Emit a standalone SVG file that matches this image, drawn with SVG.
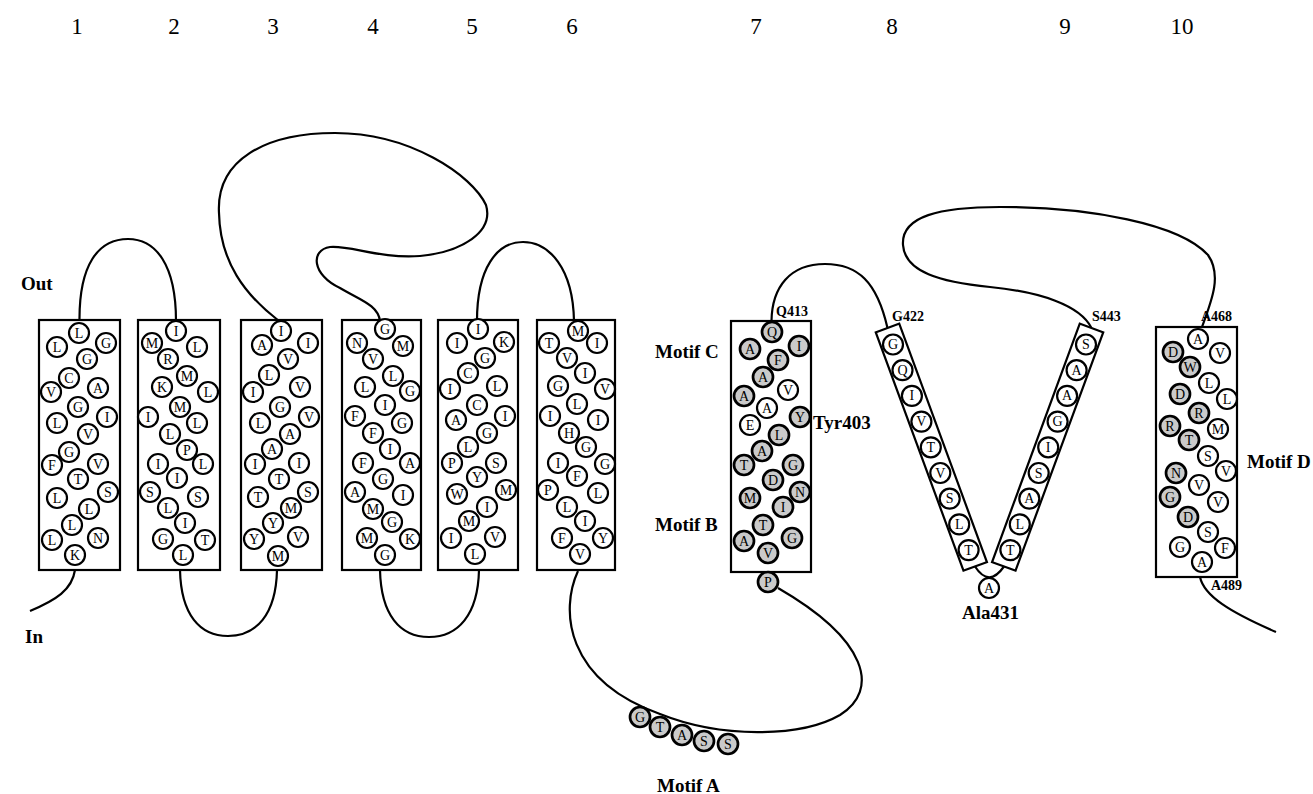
<svg xmlns="http://www.w3.org/2000/svg" width="1313" height="794" viewBox="0 0 1313 794">
<style>
.box{fill:#fff;stroke:#000;stroke-width:2.2}
.res circle{fill:#fff;stroke:#000;stroke-width:2.2}
.res circle.s{fill:#cacaca;stroke-width:2.7}
.res text{font-family:"Liberation Serif","Times New Roman",serif;font-size:14px;text-anchor:middle;dominant-baseline:central}
.lk{fill:none;stroke:#000;stroke-width:2.2}
.lab{font-family:"Liberation Serif","Times New Roman",serif;font-weight:bold;font-size:19px}
.sm{font-family:"Liberation Serif","Times New Roman",serif;font-weight:bold;font-size:14px}
.num{font-family:"Liberation Serif","Times New Roman",serif;font-size:23px;text-anchor:middle}
</style>
<rect width="1313" height="794" fill="#fff"/>
<g id="numbers">
<text class="num" x="77" y="34">1</text><text class="num" x="174" y="34">2</text><text class="num" x="273" y="34">3</text><text class="num" x="373" y="34">4</text><text class="num" x="472" y="34">5</text><text class="num" x="572" y="34">6</text><text class="num" x="756" y="34">7</text><text class="num" x="892" y="34">8</text><text class="num" x="1065" y="34">9</text><text class="num" x="1182" y="34">10</text>
</g>
<g id="sides">
<text class="lab" x="21" y="290">Out</text>
<text class="lab" x="25" y="643">In</text>
</g>
<g id="connectors">
<path class="lk" d="M75 570 C72 590 56 600 30 611"/>
<path class="lk" d="M79.5 321 C79 265 98 239 128 239 C156 239 176 265 176 321"/>
<path class="lk" d="M180 570 C181 615 200 636 228 636 C256 636 276 615 277 570"/>
<path class="lk" d="M279 321 C245 295 220 262 219 213 C216 160 265 133 335 133 C410 133 472 175 486 205 C494 232 462 252 420 256 C380 259 350 245 330 247 C310 250 312 275 340 288 C360 300 378 305 380 321"/>
<path class="lk" d="M380 570 C381 615 400 637 429 637 C458 637 478 615 479 570"/>
<path class="lk" d="M477 321 C477 268 497 242 523 242 C549 242 573 268 574 321"/>
<path class="lk" d="M578 571 C560 610 565 680 660 714 C720 738 800 738 840 715 C880 690 868 640 778 588"/>
<path class="lk" d="M771.5 321 C772 287 790 264 825 264 C858 264 877 282 887.5 328"/>
<path class="lk" d="M975 566.5 Q989 588 1004 566.5"/>
<path class="lk" d="M1091.5 328 C1080 305 1040 292 990 287 C940 282 905 272 903 245 C901 216 940 207 1000 207 C1090 207 1180 224 1208 255 C1222 275 1212 300 1202 327"/>
<path class="lk" d="M1200 577 C1204 596 1230 612 1276 632"/>
</g>
<g id="tm1">
<rect class="box" x="39" y="320" width="81" height="250"/>
<g class="res">
<circle cx="79" cy="333" r="10"/><text x="79" y="333">L</text>
<circle cx="57" cy="347" r="10"/><text x="57" y="347">L</text>
<circle cx="106" cy="343" r="10"/><text x="106" y="343">G</text>
<circle cx="87" cy="359" r="10"/><text x="87" y="359">G</text>
<circle cx="69" cy="378" r="10"/><text x="69" y="378">C</text>
<circle cx="51" cy="392" r="10"/><text x="51" y="392">V</text>
<circle cx="98" cy="388" r="10"/><text x="98" y="388">A</text>
<circle cx="78" cy="407" r="10"/><text x="78" y="407">G</text>
<circle cx="107" cy="417" r="10"/><text x="107" y="417">I</text>
<circle cx="57" cy="423" r="10"/><text x="57" y="423">L</text>
<circle cx="88" cy="434" r="10"/><text x="88" y="434">V</text>
<circle cx="69" cy="452" r="10"/><text x="69" y="452">G</text>
<circle cx="52" cy="465" r="10"/><text x="52" y="465">F</text>
<circle cx="98" cy="464" r="10"/><text x="98" y="464">V</text>
<circle cx="78" cy="479" r="10"/><text x="78" y="479">T</text>
<circle cx="108" cy="492" r="10"/><text x="108" y="492">S</text>
<circle cx="57" cy="498" r="10"/><text x="57" y="498">L</text>
<circle cx="89" cy="509" r="10"/><text x="89" y="509">L</text>
<circle cx="72" cy="525" r="10"/><text x="72" y="525">L</text>
<circle cx="52" cy="540" r="10"/><text x="52" y="540">L</text>
<circle cx="98" cy="538" r="10"/><text x="98" y="538">N</text>
<circle cx="75" cy="555" r="10"/><text x="75" y="555">K</text>
</g></g>
<g id="tm2">
<rect class="box" x="138" y="320" width="82" height="250"/>
<g class="res">
<circle cx="176" cy="331" r="10"/><text x="176" y="331">I</text>
<circle cx="152" cy="343" r="10"/><text x="152" y="343">M</text>
<circle cx="197" cy="347" r="10"/><text x="197" y="347">L</text>
<circle cx="168" cy="359" r="10"/><text x="168" y="359">R</text>
<circle cx="187" cy="376" r="10"/><text x="187" y="376">M</text>
<circle cx="162" cy="387" r="10"/><text x="162" y="387">K</text>
<circle cx="208" cy="392" r="10"/><text x="208" y="392">L</text>
<circle cx="180" cy="407" r="10"/><text x="180" y="407">M</text>
<circle cx="148" cy="417" r="10"/><text x="148" y="417">I</text>
<circle cx="197" cy="423" r="10"/><text x="197" y="423">L</text>
<circle cx="170" cy="434" r="10"/><text x="170" y="434">L</text>
<circle cx="187" cy="450" r="10"/><text x="187" y="450">P</text>
<circle cx="158" cy="464" r="10"/><text x="158" y="464">I</text>
<circle cx="203" cy="464" r="10"/><text x="203" y="464">L</text>
<circle cx="177" cy="478" r="10"/><text x="177" y="478">I</text>
<circle cx="150" cy="492" r="10"/><text x="150" y="492">S</text>
<circle cx="198" cy="497" r="10"/><text x="198" y="497">S</text>
<circle cx="168" cy="508" r="10"/><text x="168" y="508">L</text>
<circle cx="185" cy="523" r="10"/><text x="185" y="523">I</text>
<circle cx="163" cy="539" r="10"/><text x="163" y="539">G</text>
<circle cx="205" cy="540" r="10"/><text x="205" y="540">T</text>
<circle cx="183" cy="555" r="10"/><text x="183" y="555">L</text>
</g></g>
<g id="tm3">
<rect class="box" x="241" y="320" width="81" height="250"/>
<g class="res">
<circle cx="281" cy="331" r="10"/><text x="281" y="331">I</text>
<circle cx="262" cy="345" r="10"/><text x="262" y="345">A</text>
<circle cx="308" cy="343" r="10"/><text x="308" y="343">I</text>
<circle cx="288" cy="359" r="10"/><text x="288" y="359">V</text>
<circle cx="269" cy="375" r="10"/><text x="269" y="375">L</text>
<circle cx="253" cy="392" r="10"/><text x="253" y="392">I</text>
<circle cx="300" cy="387" r="10"/><text x="300" y="387">V</text>
<circle cx="280" cy="407" r="10"/><text x="280" y="407">G</text>
<circle cx="309" cy="417" r="10"/><text x="309" y="417">V</text>
<circle cx="260" cy="423" r="10"/><text x="260" y="423">L</text>
<circle cx="290" cy="434" r="10"/><text x="290" y="434">A</text>
<circle cx="272" cy="449" r="10"/><text x="272" y="449">A</text>
<circle cx="255" cy="464" r="10"/><text x="255" y="464">I</text>
<circle cx="299" cy="463" r="10"/><text x="299" y="463">I</text>
<circle cx="279" cy="479" r="10"/><text x="279" y="479">T</text>
<circle cx="308" cy="492" r="10"/><text x="308" y="492">S</text>
<circle cx="258" cy="497" r="10"/><text x="258" y="497">T</text>
<circle cx="291" cy="508" r="10"/><text x="291" y="508">M</text>
<circle cx="273" cy="523" r="10"/><text x="273" y="523">Y</text>
<circle cx="254" cy="539" r="10"/><text x="254" y="539">Y</text>
<circle cx="298" cy="537" r="10"/><text x="298" y="537">V</text>
<circle cx="278" cy="556" r="10"/><text x="278" y="556">M</text>
</g></g>
<g id="tm4">
<rect class="box" x="342" y="320" width="79" height="250"/>
<g class="res">
<circle cx="385" cy="329" r="10"/><text x="385" y="329">G</text>
<circle cx="357" cy="343" r="10"/><text x="357" y="343">N</text>
<circle cx="403" cy="346" r="10"/><text x="403" y="346">M</text>
<circle cx="373" cy="359" r="10"/><text x="373" y="359">V</text>
<circle cx="393" cy="376" r="10"/><text x="393" y="376">L</text>
<circle cx="365" cy="387" r="10"/><text x="365" y="387">L</text>
<circle cx="410" cy="391" r="10"/><text x="410" y="391">G</text>
<circle cx="385" cy="405" r="10"/><text x="385" y="405">I</text>
<circle cx="355" cy="416" r="10"/><text x="355" y="416">F</text>
<circle cx="402" cy="423" r="10"/><text x="402" y="423">G</text>
<circle cx="373" cy="433" r="10"/><text x="373" y="433">F</text>
<circle cx="390" cy="449" r="10"/><text x="390" y="449">I</text>
<circle cx="363" cy="463" r="10"/><text x="363" y="463">F</text>
<circle cx="410" cy="463" r="10"/><text x="410" y="463">A</text>
<circle cx="383" cy="479" r="10"/><text x="383" y="479">G</text>
<circle cx="355" cy="492" r="10"/><text x="355" y="492">A</text>
<circle cx="403" cy="495" r="10"/><text x="403" y="495">I</text>
<circle cx="373" cy="509" r="10"/><text x="373" y="509">M</text>
<circle cx="392" cy="522" r="10"/><text x="392" y="522">G</text>
<circle cx="367" cy="538" r="10"/><text x="367" y="538">M</text>
<circle cx="410" cy="539" r="10"/><text x="410" y="539">K</text>
<circle cx="385" cy="555" r="10"/><text x="385" y="555">G</text>
</g></g>
<g id="tm5">
<rect class="box" x="438" y="320" width="80" height="250"/>
<g class="res">
<circle cx="478" cy="329" r="10"/><text x="478" y="329">I</text>
<circle cx="457" cy="343" r="10"/><text x="457" y="343">I</text>
<circle cx="504" cy="342" r="10"/><text x="504" y="342">K</text>
<circle cx="485" cy="358" r="10"/><text x="485" y="358">G</text>
<circle cx="468" cy="373" r="10"/><text x="468" y="373">C</text>
<circle cx="450" cy="389" r="10"/><text x="450" y="389">I</text>
<circle cx="497" cy="386" r="10"/><text x="497" y="386">L</text>
<circle cx="477" cy="405" r="10"/><text x="477" y="405">C</text>
<circle cx="505" cy="416" r="10"/><text x="505" y="416">I</text>
<circle cx="456" cy="420" r="10"/><text x="456" y="420">A</text>
<circle cx="487" cy="433" r="10"/><text x="487" y="433">G</text>
<circle cx="468" cy="447" r="10"/><text x="468" y="447">L</text>
<circle cx="452" cy="463" r="10"/><text x="452" y="463">P</text>
<circle cx="496" cy="463" r="10"/><text x="496" y="463">S</text>
<circle cx="477" cy="477" r="10"/><text x="477" y="477">Y</text>
<circle cx="506" cy="490" r="10"/><text x="506" y="490">M</text>
<circle cx="457" cy="494" r="10"/><text x="457" y="494">W</text>
<circle cx="487" cy="507" r="10"/><text x="487" y="507">I</text>
<circle cx="469" cy="521" r="10"/><text x="469" y="521">M</text>
<circle cx="451" cy="538" r="10"/><text x="451" y="538">I</text>
<circle cx="495" cy="537" r="10"/><text x="495" y="537">V</text>
<circle cx="475" cy="554" r="10"/><text x="475" y="554">L</text>
</g></g>
<g id="tm6">
<rect class="box" x="537" y="320" width="78" height="250"/>
<g class="res">
<circle cx="578" cy="331" r="10"/><text x="578" y="331">M</text>
<circle cx="549" cy="343" r="10"/><text x="549" y="343">T</text>
<circle cx="597" cy="343" r="10"/><text x="597" y="343">I</text>
<circle cx="567" cy="358" r="10"/><text x="567" y="358">V</text>
<circle cx="585" cy="373" r="10"/><text x="585" y="373">I</text>
<circle cx="558" cy="386" r="10"/><text x="558" y="386">G</text>
<circle cx="605" cy="389" r="10"/><text x="605" y="389">V</text>
<circle cx="577" cy="404" r="10"/><text x="577" y="404">L</text>
<circle cx="550" cy="416" r="10"/><text x="550" y="416">I</text>
<circle cx="598" cy="420" r="10"/><text x="598" y="420">I</text>
<circle cx="569" cy="433" r="10"/><text x="569" y="433">H</text>
<circle cx="586" cy="447" r="10"/><text x="586" y="447">G</text>
<circle cx="558" cy="463" r="10"/><text x="558" y="463">I</text>
<circle cx="605" cy="464" r="10"/><text x="605" y="464">G</text>
<circle cx="577" cy="476" r="10"/><text x="577" y="476">F</text>
<circle cx="548" cy="490" r="10"/><text x="548" y="490">P</text>
<circle cx="598" cy="493" r="10"/><text x="598" y="493">L</text>
<circle cx="567" cy="507" r="10"/><text x="567" y="507">L</text>
<circle cx="585" cy="521" r="10"/><text x="585" y="521">I</text>
<circle cx="562" cy="538" r="10"/><text x="562" y="538">F</text>
<circle cx="603" cy="538" r="10"/><text x="603" y="538">Y</text>
<circle cx="580" cy="554" r="10"/><text x="580" y="554">V</text>
</g></g>
<g id="tm7">
<rect class="box" x="731" y="321" width="80" height="251"/>
<g class="res">
<circle class="s" cx="772" cy="332" r="10"/><text x="772" y="332">Q</text>
<circle class="s" cx="750" cy="349" r="10"/><text x="750" y="349">A</text>
<circle class="s" cx="799" cy="346" r="10"/><text x="799" y="346">I</text>
<circle class="s" cx="778" cy="360" r="10"/><text x="778" y="360">F</text>
<circle class="s" cx="763" cy="377" r="10"/><text x="763" y="377">A</text>
<circle cx="788" cy="390" r="10"/><text x="788" y="390">V</text>
<circle class="s" cx="744" cy="396" r="10"/><text x="744" y="396">A</text>
<circle cx="767" cy="408" r="10"/><text x="767" y="408">A</text>
<circle class="s" cx="800" cy="417" r="10"/><text x="800" y="417">Y</text>
<circle cx="750" cy="425" r="10"/><text x="750" y="425">E</text>
<circle class="s" cx="779" cy="435" r="10"/><text x="779" y="435">L</text>
<circle class="s" cx="762" cy="451" r="10"/><text x="762" y="451">A</text>
<circle class="s" cx="793" cy="465" r="10"/><text x="793" y="465">G</text>
<circle class="s" cx="744" cy="465" r="10"/><text x="744" y="465">T</text>
<circle class="s" cx="773" cy="480" r="10"/><text x="773" y="480">D</text>
<circle class="s" cx="800" cy="492" r="10"/><text x="800" y="492">N</text>
<circle class="s" cx="750" cy="498" r="10"/><text x="750" y="498">M</text>
<circle class="s" cx="783" cy="507" r="10"/><text x="783" y="507">I</text>
<circle class="s" cx="763" cy="525" r="10"/><text x="763" y="525">T</text>
<circle class="s" cx="792" cy="538" r="10"/><text x="792" y="538">G</text>
<circle class="s" cx="744" cy="541" r="10"/><text x="744" y="541">A</text>
<circle class="s" cx="768" cy="553" r="10"/><text x="768" y="553">V</text>
<circle class="s" cx="768" cy="582" r="10"/><text x="768" y="582">P</text>
</g>
<text class="sm" x="776" y="316">Q413</text>
<text class="lab" x="655" y="358">Motif C</text>
<text class="lab" x="813" y="429">Tyr403</text>
<text class="lab" x="655" y="531">Motif B</text>
</g>
<g id="motifA">
<g class="res">
<circle class="s" cx="640" cy="717" r="10"/><text x="640" y="717">G</text>
<circle class="s" cx="660" cy="727" r="10"/><text x="660" y="727">T</text>
<circle class="s" cx="682" cy="735" r="10"/><text x="682" y="735">A</text>
<circle class="s" cx="704" cy="741" r="10"/><text x="704" y="741">S</text>
<circle class="s" cx="728" cy="744" r="10"/><text x="728" y="744">S</text>
</g>
<text class="lab" x="657" y="792">Motif A</text>
</g>
<g id="tm8">
<rect class="box" x="-12.5" y="0" width="25" height="254" transform="translate(887.5 328) rotate(-20.2)"/>
<g class="res">
<circle cx="893" cy="344.5" r="10"/><text x="893" y="344.5">G</text>
<circle cx="902.5" cy="370.2" r="10"/><text x="902.5" y="370.2">Q</text>
<circle cx="911.9" cy="395.9" r="10"/><text x="911.9" y="395.9">I</text>
<circle cx="921.4" cy="421.6" r="10"/><text x="921.4" y="421.6">V</text>
<circle cx="930.8" cy="447.3" r="10"/><text x="930.8" y="447.3">T</text>
<circle cx="940.3" cy="473" r="10"/><text x="940.3" y="473">V</text>
<circle cx="949.7" cy="498.7" r="10"/><text x="949.7" y="498.7">S</text>
<circle cx="959.2" cy="524.4" r="10"/><text x="959.2" y="524.4">L</text>
<circle cx="968.6" cy="550.1" r="10"/><text x="968.6" y="550.1">T</text>
</g>
<text class="sm" x="892" y="321">G422</text>
</g>
<g id="ala431">
<g class="res"><circle cx="989" cy="588" r="10"/><text x="989" y="588">A</text></g>
<text class="lab" x="962" y="619">Ala431</text>
</g>
<g id="tm9">
<rect class="box" x="-12.5" y="0" width="25" height="254" transform="translate(1091.5 328) rotate(20.2)"/>
<g class="res">
<circle cx="1086" cy="344.5" r="10"/><text x="1086" y="344.5">S</text>
<circle cx="1076.6" cy="370.2" r="10"/><text x="1076.6" y="370.2">A</text>
<circle cx="1067.1" cy="395.9" r="10"/><text x="1067.1" y="395.9">A</text>
<circle cx="1057.6" cy="421.6" r="10"/><text x="1057.6" y="421.6">G</text>
<circle cx="1048.2" cy="447.3" r="10"/><text x="1048.2" y="447.3">I</text>
<circle cx="1038.7" cy="473" r="10"/><text x="1038.7" y="473">S</text>
<circle cx="1029.3" cy="498.7" r="10"/><text x="1029.3" y="498.7">A</text>
<circle cx="1019.8" cy="524.4" r="10"/><text x="1019.8" y="524.4">L</text>
<circle cx="1010.4" cy="550.1" r="10"/><text x="1010.4" y="550.1">T</text>
</g>
<text class="sm" x="1092" y="321">S443</text>
</g>
<g id="tm10">
<rect class="box" x="1156" y="327" width="81" height="250"/>
<g class="res">
<circle cx="1198" cy="339" r="10"/><text x="1198" y="339">A</text>
<circle class="s" cx="1173" cy="352" r="10"/><text x="1173" y="352">D</text>
<circle cx="1220" cy="353" r="10"/><text x="1220" y="353">V</text>
<circle class="s" cx="1190" cy="367" r="10"/><text x="1190" y="367">W</text>
<circle cx="1209" cy="383" r="10"/><text x="1209" y="383">L</text>
<circle class="s" cx="1180" cy="394" r="10"/><text x="1180" y="394">D</text>
<circle cx="1227" cy="399" r="10"/><text x="1227" y="399">L</text>
<circle class="s" cx="1199" cy="413" r="10"/><text x="1199" y="413">R</text>
<circle class="s" cx="1170" cy="426" r="10"/><text x="1170" y="426">R</text>
<circle cx="1218" cy="429" r="10"/><text x="1218" y="429">M</text>
<circle class="s" cx="1189" cy="440" r="10"/><text x="1189" y="440">T</text>
<circle cx="1208" cy="456" r="10"/><text x="1208" y="456">S</text>
<circle cx="1226" cy="471" r="10"/><text x="1226" y="471">V</text>
<circle class="s" cx="1176" cy="473" r="10"/><text x="1176" y="473">N</text>
<circle cx="1199" cy="485" r="10"/><text x="1199" y="485">V</text>
<circle class="s" cx="1170" cy="497" r="10"/><text x="1170" y="497">G</text>
<circle cx="1218" cy="502" r="10"/><text x="1218" y="502">V</text>
<circle class="s" cx="1188" cy="517" r="10"/><text x="1188" y="517">D</text>
<circle cx="1208" cy="532" r="10"/><text x="1208" y="532">S</text>
<circle cx="1180" cy="547" r="10"/><text x="1180" y="547">G</text>
<circle cx="1225" cy="548" r="10"/><text x="1225" y="548">F</text>
<circle cx="1202" cy="562" r="10"/><text x="1202" y="562">A</text>
</g>
<text class="sm" x="1201" y="321">A468</text>
<text class="sm" x="1211" y="590">A489</text>
<text class="lab" x="1247" y="468">Motif D</text>
</g>
</svg>
